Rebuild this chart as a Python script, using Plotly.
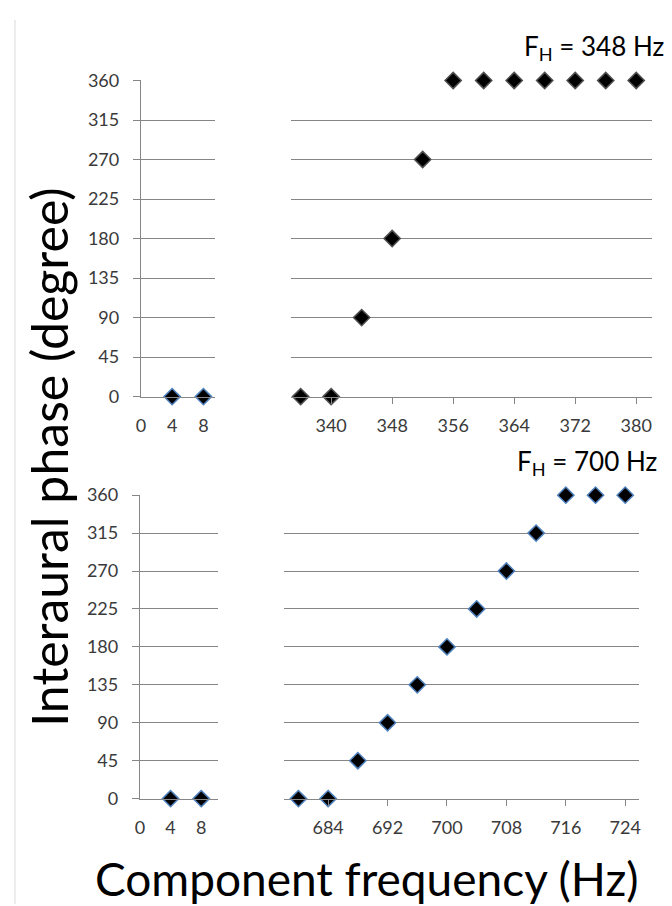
import plotly.graph_objects as go

# ---- data ----
left_x = [4, 8]
left_y = [0, 0]
top_x = [336, 340, 344, 348, 352, 356, 360, 364, 368, 372, 376, 380]
top_y = [0, 0, 90, 180, 270, 360, 360, 360, 360, 360, 360, 360]
bot_x = [680, 684, 688, 692, 696, 700, 704, 708, 712, 716, 720, 724]
bot_y = [0, 0, 45, 90, 135, 180, 225, 270, 315, 360, 360, 360]

y_ticks = [0, 45, 90, 135, 180, 225, 270, 315, 360]
left_xticks = [0, 4, 8]
top_xticks = [340, 348, 356, 364, 372, 380]
bot_xticks = [684, 692, 700, 708, 716, 724]

W, H = 672, 906
FONT = "Lato, 'Open Sans', sans-serif"
GRID = "#868686"
TICKC = "#3a3a3a"

def xd(a, b):
    return [a / W, b / W]

def yd(top_px, bot_px):
    return [(H - bot_px) / H, (H - top_px) / H]

fig = go.Figure()

blue_line = dict(color="#4F81BD", width=1.5)
gray_line = dict(color="#505050", width=1.5)
MS = 12.5

fig.add_trace(go.Scatter(x=left_x, y=left_y, mode="markers", xaxis="x", yaxis="y",
                         marker=dict(symbol="diamond", size=MS, color="black", line=blue_line),
                         cliponaxis=False))
fig.add_trace(go.Scatter(x=top_x, y=top_y, mode="markers", xaxis="x2", yaxis="y2",
                         marker=dict(symbol="diamond", size=MS, color="black", line=gray_line),
                         cliponaxis=False))
fig.add_trace(go.Scatter(x=left_x, y=left_y, mode="markers", xaxis="x3", yaxis="y3",
                         marker=dict(symbol="diamond", size=MS, color="black", line=blue_line),
                         cliponaxis=False))
fig.add_trace(go.Scatter(x=bot_x, y=bot_y, mode="markers", xaxis="x4", yaxis="y4",
                         marker=dict(symbol="diamond", size=MS, color="black", line=blue_line),
                         cliponaxis=False))

tickfont = dict(family=FONT, size=18, color=TICKC)

def xaxis(domain, anchor, rng, tv, ticks):
    return dict(domain=domain, anchor=anchor, range=rng, tickvals=tv, ticktext=[str(v) for v in tv],
                showgrid=False, zeroline=False, showline=True, linecolor=GRID, linewidth=1,
                ticks=ticks, ticklen=6, tickcolor=GRID, tickfont=tickfont,
                ticklabelstandoff=7 if ticks else 13, fixedrange=True)

def yaxis(domain, anchor, labels):
    return dict(domain=domain, anchor=anchor, range=[0, 360], tickvals=y_ticks,
                showgrid=True, gridcolor=GRID, gridwidth=1, zeroline=False,
                showline=labels, linecolor=GRID, linewidth=1,
                ticks="outside" if labels else "", ticklen=7, tickcolor=GRID,
                showticklabels=labels, tickfont=tickfont, ticklabelstandoff=10,
                fixedrange=True)

top_dom = yd(62, 386)
bot_dom = yd(487, 798)

fig.update_layout(
    width=W, height=H,
    margin=dict(l=0, r=0, t=0, b=0),
    paper_bgcolor="white", plot_bgcolor="white",
    showlegend=False,
    xaxis=xaxis(xd(129, 204), "y", [0, 9.5], left_xticks, ""),
    yaxis=yaxis(top_dom, "x", True),
    xaxis2=xaxis(xd(281, 645), "y2", [334.8, 382.1], top_xticks, "outside"),
    yaxis2=yaxis(top_dom, "x2", False),
    xaxis3=xaxis(xd(128, 207), "y3", [0, 10.2], left_xticks, ""),
    yaxis3=yaxis(bot_dom, "x3", True),
    xaxis4=xaxis(xd(273, 632), "y4", [678, 725.9], bot_xticks, "outside"),
    yaxis4=yaxis(bot_dom, "x4", False),
)

ann_font = dict(family=FONT, size=26, color="black")
fig.add_annotation(text="F<sub>H</sub> = 348 Hz", xref="paper", yref="paper",
                   x=659 / W, y=(H - 28) / H, xanchor="right", yanchor="middle",
                   showarrow=False, font=ann_font)
fig.add_annotation(text="F<sub>H</sub> = 700 Hz", xref="paper", yref="paper",
                   x=652 / W, y=(H - 454) / H, xanchor="right", yanchor="middle",
                   showarrow=False, font=ann_font)
fig.add_annotation(text="Interaural phase (degree)", xref="paper", yref="paper",
                   x=36 / W, y=(H - 448) / H, xanchor="center", yanchor="middle",
                   textangle=-90, showarrow=False,
                   font=dict(family=FONT, size=50, color="black"))
fig.add_annotation(text="Component frequency (Hz)", xref="paper", yref="paper",
                   x=357 / W, y=(H - 880) / H, xanchor="center", yanchor="middle",
                   showarrow=False, font=dict(family=FONT, size=46, color="black"))

fig.add_shape(type="line", xref="paper", yref="paper", x0=2 / W, x1=2 / W, y0=0, y1=1,
              line=dict(color="#d9d9d9", width=1))

fig.write_html("out.html")
